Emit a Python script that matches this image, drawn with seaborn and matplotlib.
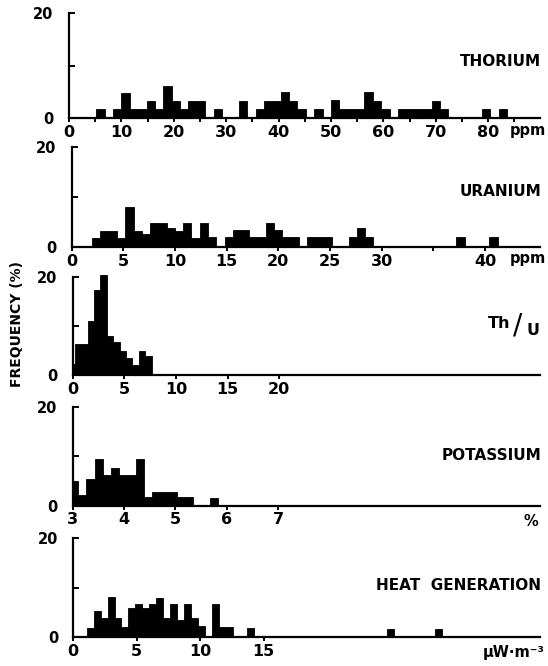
import numpy as np
import pandas as pd
import matplotlib
matplotlib.use("Agg")
import matplotlib.pyplot as plt
import seaborn as sns

# ---------------- data (bin centres and frequency in %) ----------------
thorium_ppm = [6.0, 9.2, 10.8, 12.4, 14.0, 15.6, 17.2, 18.8, 20.4, 22.0, 23.6, 25.2,
               28.4, 33.2, 36.4, 38.0, 39.6, 41.2, 42.8, 44.4, 47.6, 50.8, 52.4, 54.0,
               55.6, 57.2, 58.8, 60.4, 63.6, 65.2, 66.8, 68.4, 70.0, 71.6, 79.6, 82.8]
thorium_freq = [1.8, 1.8, 4.8, 1.8, 1.8, 3.3, 1.8, 6.2, 3.3, 1.8, 3.3, 3.3,
                1.8, 3.3, 1.8, 3.3, 3.3, 5.0, 3.3, 1.8, 1.8, 3.4, 1.8, 1.8,
                1.8, 5.0, 3.3, 1.8, 1.8, 1.8, 1.8, 1.8, 3.3, 1.8, 1.8, 1.8]

uranium_ppm = [2.4, 3.2, 4.0, 4.8, 5.6, 6.4, 7.2, 8.0, 8.8, 9.6, 10.4, 11.2, 12.0,
               12.8, 13.6, 15.2, 16.0, 16.8, 17.6, 18.4, 19.2, 20.0, 20.8, 21.6,
               23.2, 24.0, 24.8, 27.2, 28.0, 28.8, 37.6, 40.8]
uranium_freq = [1.8, 3.2, 3.2, 1.8, 7.9, 3.2, 2.5, 4.8, 4.8, 3.7, 3.2, 4.8, 1.8,
                4.8, 2.0, 2.0, 3.3, 3.3, 2.0, 2.0, 4.8, 3.3, 2.0, 2.0,
                2.0, 2.0, 2.0, 2.0, 3.7, 2.0, 2.0, 2.0]

thu_ratio = [-0.09, 0.53, 1.15, 1.77, 2.39, 3.01, 3.63, 4.25, 4.87, 5.49, 6.11, 6.73, 7.35]
thu_freq = [2.3, 6.3, 6.3, 11.0, 17.3, 20.3, 8.0, 6.7, 4.9, 3.5, 2.0, 4.9, 3.8]

potassium_pct = [3.03, 3.19, 3.35, 3.51, 3.67, 3.83, 3.99, 4.15, 4.31, 4.47, 4.63,
                 4.79, 4.95, 5.11, 5.27, 5.75]
potassium_freq = [4.9, 2.2, 5.3, 9.4, 6.2, 7.6, 6.2, 6.2, 9.4, 1.7, 2.8,
                  2.8, 2.8, 1.7, 1.7, 1.5]

heat_uw = [1.33, 1.88, 2.43, 2.98, 3.53, 4.08, 4.63, 5.18, 5.73, 6.28, 6.83, 7.38,
           7.93, 8.48, 9.03, 9.58, 10.13, 11.23, 11.78, 12.33, 13.98, 24.98, 28.83]
heat_freq = [1.8, 5.2, 3.7, 8.1, 3.9, 2.0, 5.8, 6.6, 5.8, 6.6, 7.9, 3.9,
             6.6, 3.4, 6.6, 3.7, 2.2, 6.6, 2.0, 2.0, 1.7, 1.6, 1.6]

# tick labels
thorium_labels = ["0", "10", "20", "30", "40", "50", "60", "70", "80"]
uranium_labels = ["0", "5", "10", "15", "20", "25", "30", "40"]
thu_labels = ["0", "5", "10", "15", "20"]
potassium_labels = ["3", "4", "5", "6", "7"]
heat_labels = ["0", "5", "10", "15"]
freq_labels = ["0", "", "20"]

titles = ["THORIUM", "URANIUM", "POTASSIUM", "HEAT  GENERATION"]

# ---------------- styling / layout ----------------
sns.set_theme(style="ticks")
plt.rcParams["font.family"] = ["DejaVu Sans"]
plt.rcParams["font.weight"] = "bold"
plt.rcParams["text.color"] = "black"
plt.rcParams["axes.labelcolor"] = "black"
plt.rcParams["xtick.color"] = "black"
plt.rcParams["ytick.color"] = "black"
plt.rcParams["xtick.labelcolor"] = "black"
plt.rcParams["ytick.labelcolor"] = "black"
plt.rcParams["axes.edgecolor"] = "black"

W, H = 548, 666
fig = plt.figure(figsize=(W / 100, H / 100), dpi=100)
fig.patch.set_facecolor("white")


def make_axes(left, right, y0, y20, ytop=21.0):
    ppu = (y0 - y20) / 20.0
    top = y0 - ytop * ppu
    return fig.add_axes([left / W, (H - y0) / H, (right - left) / W, (y0 - top) / H])


panels = [
    dict(x=thorium_ppm, w=thorium_freq, start=0.4, bw=1.6, xlim=(0, 89.9),
         ticks=list(range(0, 90, 5)), labpos=list(range(0, 90, 10)), labs=thorium_labels,
         geom=(69, 540, 118.3, 13.3)),
    dict(x=uranium_ppm, w=uranium_freq, start=2.0, bw=0.8, xlim=(0, 45.3),
         ticks=list(range(0, 45, 5)), labpos=[0, 5, 10, 15, 20, 25, 30, 40], labs=uranium_labels,
         geom=(71.5, 540, 246.7, 146.7)),
    dict(x=thu_ratio, w=thu_freq, start=-0.4, bw=0.62, xlim=(0, 45.2),
         ticks=[0, 5, 10, 15, 20], labpos=[0, 5, 10, 15, 20], labs=thu_labels,
         geom=(72.5, 540, 375.0, 276.7)),
    dict(x=potassium_pct, w=potassium_freq, start=2.95, bw=0.16, xlim=(3, 12.09),
         ticks=[3, 4, 5, 6, 7], labpos=[3, 4, 5, 6, 7], labs=potassium_labels,
         geom=(72.5, 540, 505.5, 406.7)),
    dict(x=heat_uw, w=heat_freq, start=1.05, bw=0.55, xlim=(0, 36.8),
         ticks=[0, 5, 10, 15], labpos=[0, 5, 10, 15], labs=heat_labels,
         geom=(73.3, 540, 636.7, 538.3)),
]

for p in panels:
    ax = make_axes(*p["geom"])
    df = pd.DataFrame({"value": p["x"], "freq": p["w"]})
    nb = int(np.ceil((max(p["x"]) - p["start"]) / p["bw"])) + 1
    edges = [float(p["start"] + p["bw"] * i) for i in range(nb + 1)]
    sns.histplot(data=df, x="value", weights="freq", bins=edges, stat="count",
                 color="black", edgecolor="black", linewidth=0.6, alpha=1.0, ax=ax)
    ax.set_xlim(*p["xlim"])
    ax.set_ylim(0, 21)
    ax.set_xlabel("")
    ax.set_ylabel("")
    ax.patch.set_alpha(0)
    for s in ["top", "right"]:
        ax.spines[s].set_visible(False)
    ax.spines["left"].set_bounds(0, 20)
    ax.spines["left"].set_linewidth(1.6)
    ax.spines["bottom"].set_linewidth(1.6)
    ax.set_yticks([0, 10, 20])
    ax.set_yticklabels(freq_labels)
    ax.tick_params(axis="y", direction="in", length=4, width=1.4, pad=11, labelsize=10.5)
    ax.set_xticks(p["ticks"])
    tl = []
    for t in p["ticks"]:
        tl.append(p["labs"][p["labpos"].index(t)] if t in p["labpos"] else "")
    ax.set_xticklabels(tl)
    ax.tick_params(axis="x", direction="out", length=3, width=1.4, pad=2, labelsize=11.5)
    for lab in ax.get_xticklabels() + ax.get_yticklabels():
        lab.set_fontweight("bold")


def ftext(x, y, s, **kw):
    kw.setdefault("fontweight", "bold")
    fig.text(x / W, 1 - y / H, s, **kw)


# panel titles
ftext(541, 62, titles[0], ha="right", va="center", fontsize=11)
ftext(541, 192, titles[1], ha="right", va="center", fontsize=11)
ftext(541, 456, titles[2], ha="right", va="center", fontsize=11)
ftext(541, 586, titles[3], ha="right", va="center", fontsize=11)
# Th/U label
ftext(499, 323, "Th", ha="center", va="center", fontsize=11.5)
ftext(518, 325, "/", ha="center", va="center", fontsize=20, fontweight="normal")
ftext(533, 330, "U", ha="center", va="center", fontsize=11.5)

# units
ftext(528, 131, "ppm", ha="center", va="center", fontsize=10.5)
ftext(528, 259, "ppm", ha="center", va="center", fontsize=10.5)
ftext(531, 522, "%", ha="center", va="center", fontsize=10.5)
ftext(545, 653, "\u03bcW\u00b7m\u207b\u00b3", ha="right", va="center", fontsize=10.5)

# y label
ftext(17, 324, "FREQUENCY (%)", rotation=90, ha="center", va="center", fontsize=10)

fig.savefig("out.png", dpi=100, facecolor="white")
